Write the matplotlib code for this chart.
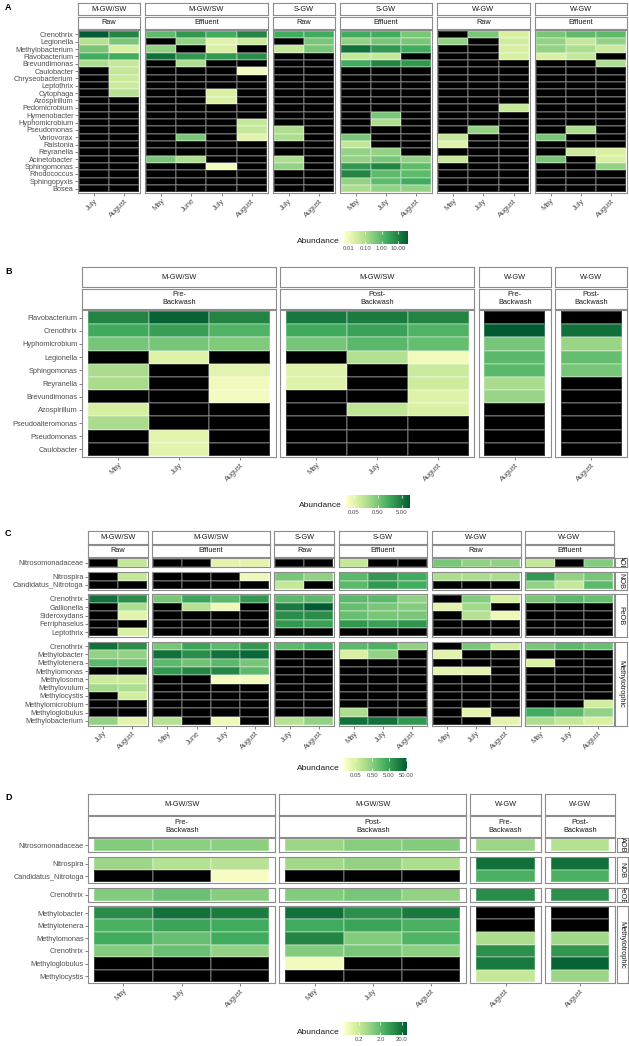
import numpy as np
import matplotlib.pyplot as plt
from matplotlib.colors import LinearSegmentedColormap, LogNorm
from matplotlib.cm import ScalarMappable

plt.rcParams['font.family'] = ['Liberation Sans', 'DejaVu Sans']

n = np.nan
W, H = 629, 1046

# ---------------- data: panel A ----------------
genera_a = ["Crenothrix", "Legionella", "Methylobacterium", "Flavobacterium", "Brevundimonas",
            "Caulobacter", "Chryseobacterium", "Leptothrix", "Cytophaga", "Azospirillum",
            "Pedomicrobium", "Hymenobacter", "Hyphomicrobium", "Pseudomonas", "Variovorax",
            "Ralstonia", "Reyranella", "Acinetobacter", "Sphingomonas", "Rhodococcus",
            "Sphingopyxis", "Bosea"]
sites_a = ["M-GW/SW", "M-GW/SW", "S-GW", "S-GW", "W-GW", "W-GW"]
stages_a = ["Raw", "Effluent", "Raw", "Effluent", "Raw", "Effluent"]
months_a = [["July", "August"], ["May", "June", "July", "August"], ["July", "August"],
            ["May", "July", "August"], ["May", "July", "August"], ["May", "July", "August"]]

# one list per month (column), rows follow genera_a
a_mgw_raw = [
    [38, 0.073, 0.44, 1.9, 0.1] + [n] * 17,
    [8.6, 0.44, 0.022, 1.9, 0.047, 0.047, 0.035, 0.035, 0.073] + [n] * 13,
]
a_mgw_eff = [
    [0.9, n, 0.21, 18] + [n] * 13 + [0.44] + [n] * 4,
    [4.1, 0.21, n, 4.1, 0.1] + [n] * 9 + [0.44, n, n, 0.1] + [n] * 4,
    [1.9, 0.017, 0.022, 4.1] + [n] * 4 + [0.022, 0.022] + [n] * 8 + [0.008] + [n] * 3,
    [8.6, 0.035, n, 6.5, n, 0.008] + [n] * 6 + [0.047, 0.047, 0.017] + [n] * 7,
]
a_sgw_raw = [
    [1.9, n, 0.047] + [n] * 10 + [0.1, 0.1, n, n, 0.1, 0.21] + [n] * 3,
    [1.9, 0.44, 0.44] + [n] * 19,
]
a_sgw_eff = [
    [1.9, 0.21, 18, 0.047, 1.9] + [n] * 9 + [0.44, 0.047, 0.21, 0.21, 4.1, 8.6, 0.21, 0.1],
    [1.9, 0.44, 4.1, 0.047, 8.6] + [n] * 6 + [0.44, 0.1, n, n, n, 0.21, 0.44, 8.6, 0.9, 0.9, 0.21],
    [0.44, 0.44, 1.9, n, 4.1] + [n] * 12 + [0.21, 0.9, 0.9, 1.9, 0.21],
]
a_wgw_raw = [
    [n, 0.21] + [n] * 12 + [0.047, 0.017, n, 0.047] + [n] * 4,
    [0.44] + [n] * 12 + [0.21] + [n] * 8,
    [0.022, 0.03, 0.022, 0.022] + [n] * 6 + [0.047] + [n] * 11,
]
a_wgw_eff = [
    [0.44, 0.21, 0.21, 0.022] + [n] * 10 + [0.44, n, n, 0.44] + [n] * 4,
    [0.9, 0.047, 0.1, 0.047] + [n] * 9 + [0.1, n, n, 0.035] + [n] * 5,
    [0.9, 0.21, 0.035, n, 0.1] + [n] * 11 + [0.022, 0.022, 0.21] + [n] * 3,
]
abund_a = [a_mgw_raw, a_mgw_eff, a_sgw_raw, a_sgw_eff, a_wgw_raw, a_wgw_eff]

# ---------------- data: panel B ----------------
genera_b = ["Flavobacterium", "Crenothrix", "Hyphomicrobium", "Legionella", "Sphingomonas",
            "Reyranella", "Brevundimonas", "Azospirillum", "Pseudoalteromonas", "Pseudomonas",
            "Caulobacter"]
sites_b = ["M-GW/SW", "M-GW/SW", "W-GW", "W-GW"]
stages_b = ["Pre-\nBackwash", "Post-\nBackwash", "Pre-\nBackwash", "Post-\nBackwash"]
months_b = [["May", "July", "August"], ["May", "July", "August"], ["August"], ["August"]]
b_mgw_pre = [
    [4.0, 1.45, 0.52, n, 0.19, 0.19, n, 0.069, 0.19, n, n],
    [8.9, 1.95, 0.52, 0.056, n, n, n, n, n, 0.051, 0.051],
    [4.0, 1.07, 0.43, n, 0.051, 0.034, 0.031, n, n, n, n],
]
b_mgw_post = [
    [5.4, 1.45, 0.52, n, 0.056, 0.056, n, n, n, n, n],
    [4.9, 1.8, 0.87, 0.155, n, n, n, 0.115, n, n, n],
    [4.0, 1.07, 0.71, 0.034, 0.093, 0.085, 0.056, 0.062, n, n, n],
]
b_wgw_pre = [[n, 11, 0.52, 0.87, 0.87, 0.19, 0.26, n, n, n, n]]
b_wgw_post = [[n, 6.6, 0.26, 0.71, 0.52, n, n, n, n, n, n]]
abund_b = [b_mgw_pre, b_mgw_post, b_wgw_pre, b_wgw_post]

# ---------------- data: panel C ----------------
groups_c = ["AOB", "NOB", "FeOB", "Methylotrophic"]
genera_c = [["Nitrosomonadaceae"],
            ["Nitrospira", "Candidatus_Nitrotoga"],
            ["Crenothrix", "Gallionella", "Sideroxydans", "Ferriphaselus", "Leptothrix"],
            ["Crenothrix", "Methylobacter", "Methylotenera", "Methylomonas", "Methylosoma",
             "Methylovulum", "Methylocystis", "Methylomicrobium", "Methyloglobulus",
             "Methylobacterium"]]
c_mgw_raw = [
    [n, n, n, 27, n, n, n, n, 27, 0.38, 1.6, n, 0.07, 0.25, n, n, n, 0.38],
    [0.093, 0.093, n, 10, 0.19, 0.034, n, 0.045, 10, 0.38, 1.0, n, 0.07, 0.19, 0.06, n, n, 0.034],
]
c_mgw_eff = [
    [n, n, n, 0.78, n, n, n, n, 0.78, 27, 1.6, 6.5, n, n, n, n, n, 0.14],
    [n, n, n, 4.3, 0.14, n, n, n, 4.3, 10, 1.0, 13, n, n, n, n, n, n],
    [0.034, n, n, 1.6, 0.022, n, n, n, 1.6, 27, 1.6, 13, 0.017, n, n, n, n, 0.022],
    [0.034, 0.022, n, 6.5, n, n, n, n, 6.5, 36, 0.78, 1.6, 0.017, n, n, n, n, n],
]
c_sgw_raw = [
    [n, 0.78, 0.093, 1.6, 20, 10, 6.5, n, 1.6, n, n, n, n, n, n, n, n, 0.14],
    [n, 0.38, n, 1.6, 55, 10, 4.9, n, 3.2, n, n, n, n, n, n, n, n, 0.38],
]
c_sgw_eff = [
    [0.093, 1.6, 1.6, 1.6, 1.2, 1.2, 6.5, n, 1.6, 0.045, n, n, n, n, n, n, 0.19, 27],
    [n, 6.5, 6.5, 1.6, 0.78, 0.78, 4.9, n, 2.4, 0.38, n, n, n, n, n, n, n, 27],
    [n, 3.2, 3.2, 0.38, 0.59, 0.78, 7.5, n, 0.38, n, n, n, n, n, n, n, n, 6.5],
]
c_wgw_raw = [
    [0.78, 0.19, n, n, 0.034, n, n, n, n, 0.034, n, 0.034, n, n, n, n, n, n],
    [0.38, 0.19, n, 0.59, 0.25, 0.14, n, n, 0.78, n, n, 0.034, n, n, n, n, 0.03, n],
    [0.38, 0.19, n, 0.045, n, 0.022, n, n, 0.06, n, n, n, n, n, n, n, n, 0.03],
]
c_wgw_eff = [
    [0.093, 6.5, 0.38, 0.78, n, n, n, n, 0.78, n, 0.045, n, n, n, n, n, 3.2, 0.19],
    [n, 0.38, 0.093, 1.6, n, n, n, n, 1.6, n, n, n, n, n, n, n, 1.6, 0.093],
    [0.59, 0.78, 1.6, 1.2, n, n, n, n, 1.2, n, n, n, n, n, n, 0.06, 0.38, 0.045],
]
abund_c = [c_mgw_raw, c_mgw_eff, c_sgw_raw, c_sgw_eff, c_wgw_raw, c_wgw_eff]

# ---------------- data: panel D ----------------
genera_d = [["Nitrosomonadaceae"],
            ["Nitrospira", "Candidatus_Nitrotoga"],
            ["Crenothrix"],
            ["Methylobacter", "Methylotenera", "Methylomonas", "Crenothrix",
             "Methyloglobulus", "Methylocystis"]]
d_mgw_pre = [
    [0.95, 0.55, n, 0.95, 8.8, 2.9, 3.6, 0.95, n, n],
    [0.76, 0.31, n, 1.5, 19, 4.5, 1.7, 1.5, n, n],
    [0.76, 0.28, 0.053, 0.85, 13.7, 3.6, 3.6, 0.68, n, n],
]
d_mgw_post = [
    [0.55, 0.49, n, 0.95, 19, 3.6, 11, 0.95, 0.06, n],
    [0.85, 0.68, n, 1.2, 7.9, 4.5, 0.95, 1.2, n, n],
    [0.95, 0.39, n, 0.68, 15, 2.9, 2.6, 0.76, n, n],
]
d_wgw_pre = [[0.55, 19, 2.9, 8.8, n, n, 0.39, 7.9, 15, 0.22]]
d_wgw_post = [[0.31, 19, 2.9, 7.9, n, n, 0.49, 6.3, 27, 0.55]]
abund_d = [d_mgw_pre, d_mgw_post, d_wgw_pre, d_wgw_post]

# ---------------- style ----------------
cmap = LinearSegmentedColormap.from_list(
    "ylgn", ["#ffffcc", "#d9f0a3", "#addd8e", "#78c679", "#41ab5d", "#238443", "#005a32"]
).with_extremes(bad="black")
BORDER = "#8c8c8c"
TXT = "#4d4d4d"
GRID = (1, 1, 1, 0.22)
FS = 5.3

fig = plt.figure(figsize=(W / 100, H / 100), dpi=100)


def box(x0, y0, x1, y1):
    return fig.add_axes([x0 / W, 1 - y1 / H, (x1 - x0) / W, (y1 - y0) / H])


def strip(x0, y0, x1, y1, text, fs=FS, rot=0):
    ax = box(x0, y0, x1, y1)
    ax.set_xticks([])
    ax.set_yticks([])
    for s in ax.spines.values():
        s.set_color(BORDER)
        s.set_linewidth(0.8)
    ax.text(0.5, 0.5, text, ha="center", va="center", rotation=rot, fontsize=fs,
            color="#1a1a1a", transform=ax.transAxes, clip_on=True, linespacing=1.15)


def heat(x0, y0, x1, y1, cols, norm, padx, pady, months=None, rows=None):
    ax = box(x0, y0, x1, y1)
    m = np.ma.masked_invalid(np.array(cols, dtype=float).T)
    ax.pcolormesh(m, cmap=cmap, norm=norm, edgecolors=GRID, linewidth=0.35)
    nr, nc = m.shape
    ax.set_xlim(-padx, nc + padx)
    ax.set_ylim(nr + pady, -pady)
    for s in ax.spines.values():
        s.set_color(BORDER)
        s.set_linewidth(0.8)
    if months:
        ax.set_xticks(np.arange(nc) + 0.5)
        ax.set_xticklabels(months, rotation=45, ha="right", va="top",
                           rotation_mode="anchor", fontsize=FS, color=TXT)
    else:
        ax.set_xticks([])
    if rows:
        ax.set_yticks(np.arange(nr) + 0.5)
        ax.set_yticklabels(rows, fontsize=FS, color=TXT)
    else:
        ax.set_yticks([])
    ax.tick_params(length=2, width=0.5, color=TXT, pad=1.2)
    return ax


def legend(x0, y0, x1, y1, norm, ticks, labels):
    cax = box(x0, y0, x1, y1)
    cb = fig.colorbar(ScalarMappable(norm=norm, cmap=cmap), cax=cax, orientation="horizontal")
    cb.outline.set_visible(False)
    cb.set_ticks(ticks, labels=labels)
    cax.minorticks_off()
    cax.tick_params(labelsize=4.3, length=2.5, width=0.5, color="white", direction="in",
                    pad=1.5, labelcolor=TXT, top=True, bottom=True, labeltop=False)
    fig.text((x0 - 4) / W, 1 - (y1 - 2) / H, "Abundance", ha="right", va="center",
             fontsize=6, color="#1a1a1a")


def xspans(x0, ncols, colw, pad, gap):
    out = []
    for k in ncols:
        w = k * colw + 2 * pad
        out.append((x0, x0 + w))
        x0 += w + gap
    return out


def yspans(y0, nrows, rowh, pad, gap):
    out = []
    for k in nrows:
        h = k * rowh + 2 * pad
        out.append((y0, y0 + h))
        y0 += h + gap
    return out


# ---------------- panel A ----------------
normA = LogNorm(0.005, 40)
colw, pad = 30.2, 0.8
rowh = 7.34
for i, (xa, xb) in enumerate(xspans(78, [len(m) for m in months_a], colw, pad, 5.2)):
    strip(xa, 3, xb, 15.3, sites_a[i])
    strip(xa, 16.8, xb, 29.2, stages_a[i])
    heat(xa, 30, xb, 193, abund_a[i], normA, pad / colw, 0.8 / rowh, months_a[i],
         genera_a if i == 0 else None)
legend(344, 231, 408, 244, normA, [0.01, 0.1, 1, 10], ["0.01", "0.10", "1.00", "10.00"])

# ---------------- panel B ----------------
normB = LogNorm(0.023, 11)
colw, pad = 61.0, 5.5
for i, (xa, xb) in enumerate(xspans(82, [len(m) for m in months_b], colw, pad, 4.4)):
    strip(xa, 267, xb, 287.3, sites_b[i])
    strip(xa, 288.5, xb, 309, stages_b[i])
    heat(xa, 310, xb, 457, abund_b[i], normB, pad / colw, 1 / 13.2, months_b[i],
         genera_b if i == 0 else None)
legend(346, 495, 410, 508, normB, [0.05, 0.5, 5], ["0.05", "0.50", "5.00"])

# ---------------- panel C ----------------
normC = LogNorm(0.011, 57)
colw, pad = 29.1, 0.8
rowh = 8.3
ysC = yspans(558, [len(g) for g in genera_c], rowh, 0.5, 4.7)
starts = np.cumsum([0] + [len(g) for g in genera_c])
for i, (xa, xb) in enumerate(xspans(88, [len(m) for m in months_a], colw, pad, 4.3)):
    strip(xa, 531, xb, 543.5, sites_a[i])
    strip(xa, 545, xb, 557, stages_a[i])
    for g, (ya, yb) in enumerate(ysC):
        cols = [c[starts[g]:starts[g + 1]] for c in abund_c[i]]
        heat(xa, ya, xb, yb, cols, normC, pad / colw, 0.5 / rowh,
             months_a[i] if g == len(ysC) - 1 else None,
             genera_c[g] if i == 0 else None)
for g, (ya, yb) in enumerate(ysC):
    strip(615, ya, 627, yb, groups_c[g], rot=-90)
legend(344, 758, 407, 771, normC, [0.05, 0.5, 5, 50], ["0.05", "0.50", "5.00", "50.00"])

# ---------------- panel D ----------------
normD = LogNorm(0.041, 34)
colw, pad = 58.3, 6.0
rowh = 12.6
ysD = yspans(838, [len(g) for g in genera_d], rowh, 0.7, 4.5)
starts = np.cumsum([0] + [len(g) for g in genera_d])
for i, (xa, xb) in enumerate(xspans(88.3, [len(m) for m in months_b], colw, pad, 4.2)):
    strip(xa, 794, xb, 815, sites_b[i])
    strip(xa, 816, xb, 837, stages_b[i])
    for g, (ya, yb) in enumerate(ysD):
        cols = [c[starts[g]:starts[g + 1]] for c in abund_d[i]]
        heat(xa, ya, xb, yb, cols, normD, pad / colw, 0.7 / rowh,
             months_b[i] if g == len(ysD) - 1 else None,
             genera_d[g] if i == 0 else None)
for g, (ya, yb) in enumerate(ysD):
    strip(616.5, ya, 628, yb, groups_c[g], rot=-90)
legend(344, 1022, 407, 1035, normD, [0.2, 2, 20], ["0.2", "2.0", "20.0"])

# panel letters
for lab, y in [("A", 8), ("B", 272), ("C", 533), ("D", 797)]:
    fig.text(5 / W, 1 - y / H, lab, fontsize=6.5, fontweight="bold", va="center")

fig.savefig("out.png", dpi=100)
